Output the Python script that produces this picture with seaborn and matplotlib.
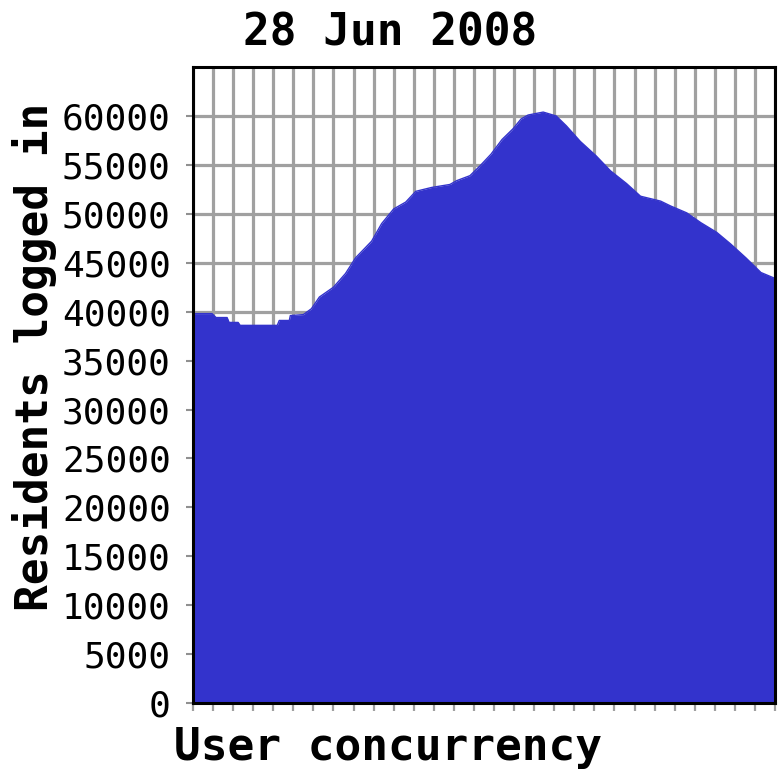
import numpy as np
import pandas as pd
import matplotlib
matplotlib.use("Agg")
import matplotlib.pyplot as plt
import seaborn as sns

# samples (x in sample units, grid every 10)
sample = [0, 9.5, 11.5, 17, 18, 22.5, 23.5, 42, 43, 48, 48.5, 55, 59, 63, 70, 76,
          81, 89, 94, 100, 106, 111, 119, 128, 131.5, 138, 143, 148.5, 154, 159.5,
          163.5, 167, 174.5, 181, 186, 193, 201, 208, 216, 223, 233, 238, 246,
          253, 261, 268, 275.5, 283, 290]
residents = [39800, 39800, 39400, 39400, 38900, 38900, 38600, 38600, 39100, 39100,
             39600, 39700, 40300, 41500, 42500, 43900, 45500, 47200, 49000, 50500,
             51200, 52300, 52700, 53000, 53400, 53900, 54900, 56100, 57600, 58700,
             59700, 60100, 60400, 60000, 59000, 57400, 55900, 54400, 53100, 51800,
             51300, 50800, 50100, 49100, 48100, 46900, 45500, 44000, 43400]
y_ticks = list(range(0, 60001, 5000))
x_grid = list(range(0, 291, 10))

df = pd.DataFrame({"sample": sample, "residents": residents})

sns.set_theme(style="white")
plt.rcParams["font.family"] = ["DejaVu Sans Mono", "DejaVu Sans"]
plt.rcParams["text.color"] = "black"
plt.rcParams["axes.labelcolor"] = "black"
plt.rcParams["ytick.labelcolor"] = "black"

fig = plt.figure(figsize=(7.8, 7.8), dpi=100)
ax = fig.add_axes([0.2474, 0.0987, 0.7462, 0.8153])

blue = "#3333CC"
ax.fill_between(df["sample"], df["residents"], color=blue, linewidth=0, zorder=3)
sns.lineplot(data=df, x="sample", y="residents", color=blue, linewidth=1, ax=ax, zorder=4)

ax.set_xlim(0, 290)
ax.set_ylim(0, 65000)
ax.set_yticks(y_ticks)
ax.set_yticklabels([str(v) for v in y_ticks])
ax.set_xticks(x_grid)
ax.set_xticklabels([])

ax.set_axisbelow(True)
ax.grid(True, color="#a0a0a0", linewidth=2.3)
ax.tick_params(axis="y", which="major", length=5, width=1.5, color="#909090",
               labelcolor="black", pad=11, labelsize=26, left=True)
ax.tick_params(axis="x", which="major", length=6, width=1.6, color="#a0a0a0",
               bottom=True)

for s in ax.spines.values():
    s.set_color("black")
    s.set_linewidth(2.2)
    s.set_zorder(5)

ax.set_xlabel("User concurrency", fontsize=32, fontweight="bold", va="top",
              color="black")
ax.xaxis.set_label_coords(0.335, -0.036)
ax.set_ylabel("Residents logged in", fontsize=32, fontweight="bold",
              va="center", ha="center", color="black")
ax.yaxis.set_label_coords(-0.272, 0.545)

fig.suptitle("28 Jun 2008", x=0.5, y=0.958, va="center",
             fontsize=32, fontweight="bold", color="black")

fig.savefig("out.png", dpi=100, facecolor="white")
